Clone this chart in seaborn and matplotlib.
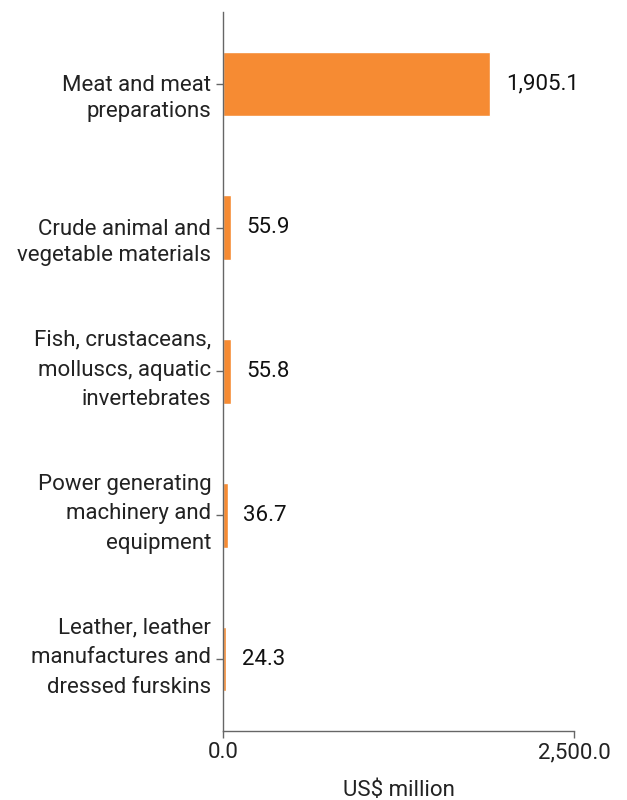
import matplotlib
matplotlib.use("Agg")
import matplotlib.pyplot as plt
import matplotlib.transforms as mtransforms
import seaborn as sns
import pandas as pd

categories = [
    "Meat and meat\npreparations",
    "Crude animal and\nvegetable materials",
    "Fish, crustaceans,\nmolluscs, aquatic\ninvertebrates",
    "Power generating\nmachinery and\nequipment",
    "Leather, leather\nmanufactures and\ndressed furskins",
]
values = [1905.1, 55.9, 55.8, 36.7, 24.3]
value_labels = ["1,905.1", "55.9", "55.8", "36.7", "24.3"]
x_ticks = [0, 2500]
x_tick_labels = ["0.0", "2,500.0"]

sns.set_theme(style="white")
plt.rcParams["font.family"] = ["Roboto", "DejaVu Sans"]

df = pd.DataFrame({"category": categories, "value": values})

fig = plt.figure(figsize=(6.27, 8.0), dpi=100)
ax = fig.add_axes([223 / 627, 1 - 731 / 800, (574 - 223) / 627, (731 - 12) / 800])

sns.barplot(data=df, y="category", x="value", orient="h", color="#F68B33",
            saturation=1, width=0.45, ax=ax)

ax.set_xlim(0, 2500)
ax.set_ylim(4.5, -0.5)
ax.set_xticks(x_ticks)
ax.set_xticklabels(x_tick_labels)
ax.set_ylabel("")
ax.set_yticklabels([])
ax.set_xlabel("US$ million", fontsize=16, color="#222222", labelpad=12)

# Category labels: two-line labels hang from the tick, three-line ones are centred on it
for i, label in enumerate(categories):
    n_lines = label.count("\n") + 1
    if n_lines == 2:
        dy, spacing = -10.5, 1.3
    else:
        dy, spacing = 1.0, 1.55
    trans = mtransforms.offset_copy(ax.get_yaxis_transform(), fig=fig,
                                    x=-8.5, y=dy, units="points")
    ax.text(0, i, label, transform=trans, ha="right", va="center",
            multialignment="right", linespacing=spacing,
            fontsize=16, color="#222222")

for i, (v, t) in enumerate(zip(values, value_labels)):
    ax.annotate(t, xy=(v, i), xytext=(11, 0), textcoords="offset points",
                va="center", ha="left", fontsize=16, color="#111111")

for side in ["top", "right"]:
    ax.spines[side].set_visible(False)
for side in ["left", "bottom"]:
    ax.spines[side].set_color("#666666")
    ax.spines[side].set_linewidth(1.0)

ax.tick_params(axis="y", left=True, length=5, width=1, color="#666666")
ax.tick_params(axis="x", bottom=True, length=5, width=1, color="#666666",
               labelsize=16, labelcolor="#222222", pad=3)

fig.savefig("out.png", dpi=100)
